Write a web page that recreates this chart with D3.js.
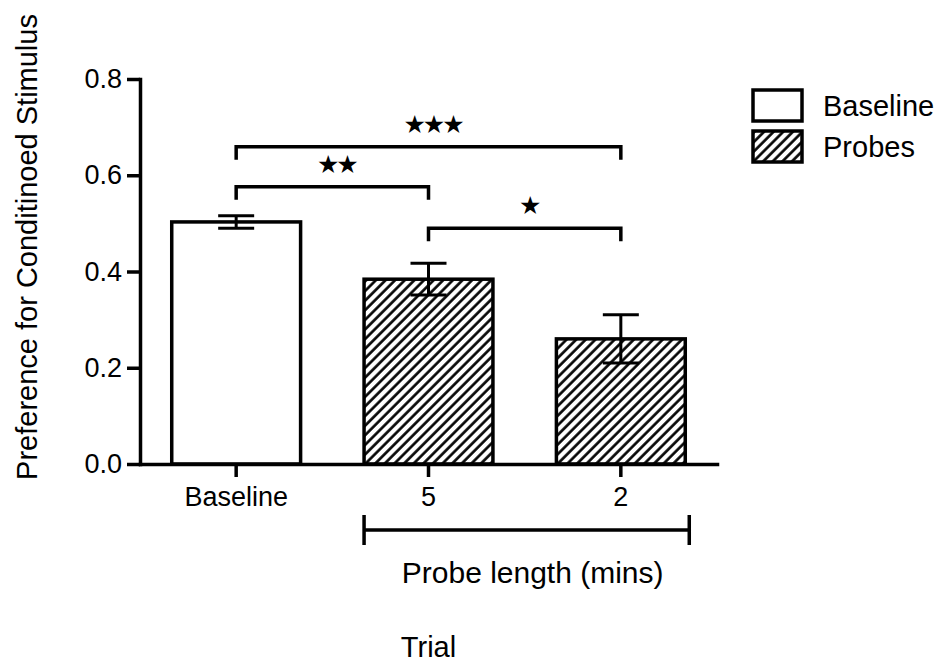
<!DOCTYPE html>
<html>
<head>
<meta charset="utf-8">
<script src="https://cdn.jsdelivr.net/npm/d3@7"></script>
<style>
  html, body { margin: 0; background: #fff; }
  text { font-family: "Liberation Sans", Arial, sans-serif; fill: #000; }
</style>
</head>
<body>
<svg id="chart" width="949" height="664"></svg>
<script>
// values
const categories = ['Baseline', '5', '2']
const means = [0.503, 0.384, 0.260]
const sems = [0.013, 0.033, 0.050]
const groups = ['Baseline', 'Probes', 'Probes']
const yTicks = [0.0, 0.2, 0.4, 0.6, 0.8]
const legendItems = ['Baseline', 'Probes']

// significance brackets: pair, label, level (in data units)
const comparisons = [['Baseline', '2'], ['Baseline', '5'], ['5', '2']]
const compLabels = ['***', '**', '*']
const compLevels = [0.659, 0.576, 0.49]

const svg = d3.select('#chart')
const ink = '#000'
const lw = 3.5

const x = d3.scaleBand().domain(categories).range([140, 717])
  .paddingInner(0.33).paddingOuter(0.165)
const y = d3.scaleLinear().domain([0, 0.8]).range([464, 79])

// diagonal hatch for the probe bars
const defs = svg.append('defs')
defs.append('pattern')
  .attr('id', 'hatch')
  .attr('patternUnits', 'userSpaceOnUse')
  .attr('width', 6.8).attr('height', 6.8)
  .attr('patternTransform', 'rotate(45)')
  .call(p => {
    p.append('rect').attr('width', 6.8).attr('height', 6.8).attr('fill', '#fff')
    p.append('line').attr('x1', 1.5).attr('x2', 1.5).attr('y1', 0).attr('y2', 6.8)
      .attr('stroke', ink).attr('stroke-width', 2.6)
  })

const fillFor = g => g === 'Probes' ? 'url(#hatch)' : '#fff'

// ── Bars ──
const data = categories.map((c, i) => ({ cat: c, mean: means[i], sem: sems[i], group: groups[i] }))

svg.append('g').selectAll('rect')
  .data(data)
  .join('rect')
  .attr('x', d => x(d.cat))
  .attr('y', d => y(d.mean))
  .attr('width', x.bandwidth())
  .attr('height', d => y(0) - y(d.mean))
  .attr('fill', d => fillFor(d.group))
  .attr('stroke', ink)
  .attr('stroke-width', lw)

// ── Error bars ──
const capHalf = 18
const err = svg.append('g').attr('stroke', ink).attr('stroke-width', 3)
data.forEach(d => {
  const cx = x(d.cat) + x.bandwidth() / 2
  err.append('line').attr('x1', cx).attr('x2', cx)
    .attr('y1', y(d.mean - d.sem)).attr('y2', y(d.mean + d.sem))
  ;[d.mean - d.sem, d.mean + d.sem].forEach(v => {
    err.append('line').attr('x1', cx - capHalf).attr('x2', cx + capHalf)
      .attr('y1', y(v)).attr('y2', y(v))
  })
})

// ── Axes ──
const yAxis = svg.append('g')
  .attr('transform', `translate(${x.range()[0]},0)`)
  .call(d3.axisLeft(y).tickValues(yTicks).tickFormat(d3.format('.1f'))
    .tickSize(13).tickSizeOuter(0).tickPadding(5))
const xAxis = svg.append('g')
  .attr('transform', `translate(0,${y(0)})`)
  .call(d3.axisBottom(x).tickSize(13).tickSizeOuter(0).tickPadding(10))

;[yAxis, xAxis].forEach(a => {
  a.select('.domain').attr('stroke', ink).attr('stroke-width', lw).attr('stroke-linecap', 'square')
  a.selectAll('.tick line').attr('stroke', ink).attr('stroke-width', lw)
  a.selectAll('.tick text').attr('fill', ink).style('font-size', '27px')
    .style('font-family', '"Liberation Sans", Arial, sans-serif')
})

// ── Significance brackets ──
const leg = 13
const br = svg.append('g')
comparisons.forEach((pair, i) => {
  const x1 = x(pair[0]) + x.bandwidth() / 2
  const x2 = x(pair[1]) + x.bandwidth() / 2
  const yy = y(compLevels[i])
  br.append('path')
    .attr('d', `M${x1},${yy + leg}V${yy}H${x2}V${yy + leg}`)
    .attr('fill', 'none').attr('stroke', ink).attr('stroke-width', lw)
  br.append('text')
    .attr('x', (x1 + x2) / 2 + 4)
    .attr('y', yy - 14)
    .attr('text-anchor', 'middle')
    .style('font-family', '"DejaVu Sans", sans-serif')
    .style('font-size', '25px')
    .style('letter-spacing', '-3px')
    .text(compLabels[i].replace(/\*/g, '\u2605'))
})

// ── Probe length group bracket ──
const gx1 = x(categories[1])
const gx2 = x(categories[2]) + x.bandwidth() + 4
const gy = 530
svg.append('path')
  .attr('d', `M${gx1},${gy - 15}V${gy + 15}M${gx1},${gy}H${gx2}M${gx2},${gy - 15}V${gy + 15}`)
  .attr('fill', 'none').attr('stroke', ink).attr('stroke-width', lw)
svg.append('text')
  .attr('x', (gx1 + gx2) / 2 + 6)
  .attr('y', 583)
  .attr('text-anchor', 'middle')
  .style('font-size', '30px')
  .text('Probe length (mins)')

// ── Axis titles ──
svg.append('text')
  .attr('x', (x.range()[0] + x.range()[1]) / 2)
  .attr('y', 657)
  .attr('text-anchor', 'middle')
  .style('font-size', '29px')
  .text('Trial')

svg.append('text')
  .attr('transform', 'translate(37,247) rotate(-90)')
  .attr('text-anchor', 'middle')
  .style('font-size', '29px')
  .text('Preference for Conditinoed Stimulus')

// ── Legend ──
const legend = svg.append('g').attr('transform', 'translate(753,90)')
legendItems.forEach((name, i) => {
  const g = legend.append('g').attr('transform', `translate(0,${i * 41})`)
  g.append('rect').attr('width', 49).attr('height', 31)
    .attr('fill', fillFor(name)).attr('stroke', ink).attr('stroke-width', lw)
  g.append('text').attr('x', 70).attr('y', 26)
    .style('font-size', '29px')
    .text(name)
})
</script>
</body>
</html>
